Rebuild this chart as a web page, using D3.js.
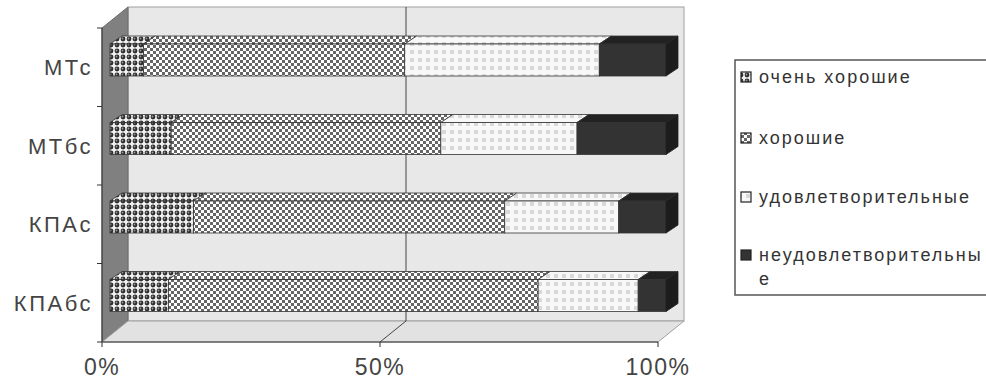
<!DOCTYPE html>
<html>
<head>
<meta charset="utf-8">
<script src="https://cdn.jsdelivr.net/npm/d3@7"></script>
<style>
  body { margin: 0; background: #fff; }
  svg { display: block; font-family: "Liberation Sans", Arial, sans-serif; }
</style>
</head>
<body>
<div id="chart"></div>
<script>
// данные (доли, %)
const categories = ["МТс", "МТбс", "КПАс", "КПАбс"];
const seriesNames = ["очень хорошие", "хорошие", "удовлетворительные", "неудовлетворительные"];
const veryGood = [6, 11, 15, 10.5];
const good = [47, 48.5, 56, 66.5];
const satisfactory = [35, 24.5, 20.5, 18];
const unsatisfactory = [12, 16, 8.5, 5];
const tickLabels = ["0%", "50%", "100%"];

const W = 986, H = 380;
const svg = d3.select("#chart").append("svg").attr("width", W).attr("height", H);

// 3D смещения
const depthX = 26, depthY = -21;   // стены
const barDX = 12, barDY = -8;      // глубина столбиков
const barShift = 8;

const x = d3.scaleLinear().domain([0, 100]).range([102, 658]);
const y = d3.scaleBand().domain(categories).range([28, 342]).padding(0);

// паттерны
const defs = svg.append("defs");
const p1 = defs.append("pattern").attr("id", "pVG").attr("patternUnits", "userSpaceOnUse")
  .attr("width", 6).attr("height", 6);
p1.append("rect").attr("width", 6).attr("height", 6).attr("fill", "#f0f0f0");
p1.append("circle").attr("cx", 3).attr("cy", 3).attr("r", 2.4).attr("fill", "#2e2e2e");
p1.append("circle").attr("cx", 2.5).attr("cy", 2.5).attr("r", 0.9).attr("fill", "#9a9a9a");

const p2 = defs.append("pattern").attr("id", "pG").attr("patternUnits", "userSpaceOnUse")
  .attr("width", 6).attr("height", 6);
p2.append("rect").attr("width", 6).attr("height", 6).attr("fill", "#fff");
p2.append("rect").attr("width", 3).attr("height", 3).attr("fill", "#666");
p2.append("rect").attr("x", 3).attr("y", 3).attr("width", 3).attr("height", 3).attr("fill", "#666");

const p3 = defs.append("pattern").attr("id", "pS").attr("patternUnits", "userSpaceOnUse")
  .attr("width", 8).attr("height", 8);
p3.append("rect").attr("width", 8).attr("height", 8).attr("fill", "#f8f8f8");
p3.append("rect").attr("x", 2).attr("y", 2).attr("width", 4).attr("height", 4).attr("fill", "#d8d8d8");

const fills = ["url(#pVG)", "url(#pG)", "url(#pS)", "#333333"];

// стены и пол
const x0 = x(0), x1 = x(100), yTop = 28, yBot = 342;
svg.append("rect")
  .attr("x", x0 + depthX).attr("y", yTop + depthY)
  .attr("width", x1 - x0).attr("height", yBot - yTop)
  .attr("fill", "#e8e8e8").attr("stroke", "#a0a0a0");
svg.append("polygon")
  .attr("points", [[x0, yTop], [x0 + depthX, yTop + depthY], [x0 + depthX, yBot + depthY], [x0, yBot]].join(" "))
  .attr("fill", "#808080").attr("stroke", "#6a6a6a");
svg.append("polygon")
  .attr("points", [[x0, yBot], [x0 + depthX, yBot + depthY], [x1 + depthX, yBot + depthY], [x1, yBot]].join(" "))
  .attr("fill", "#e2e2e2").attr("stroke", "#a0a0a0");

// сетка 50%
svg.append("line")
  .attr("x1", x(50) + depthX).attr("x2", x(50) + depthX)
  .attr("y1", yTop + depthY).attr("y2", yBot + depthY)
  .attr("stroke", "#444");
svg.append("line")
  .attr("x1", x(50)).attr("x2", x(50) + depthX)
  .attr("y1", yBot).attr("y2", yBot + depthY)
  .attr("stroke", "#444");

// столбики
const series = [veryGood, good, satisfactory, unsatisfactory];
const barH = 32;
categories.forEach((c, i) => {
  const top = y(c) + 16;
  let acc = 0;
  series.forEach((s, k) => {
    const a = x(acc) + barShift, b = x(acc + s[i]) + barShift;
    acc += s[i];
    // верх
    svg.append("polygon")
      .attr("points", [[a, top], [a + barDX, top + barDY], [b + barDX, top + barDY], [b, top]].join(" "))
      .attr("fill", k === 3 ? "#222" : fills[k]).attr("stroke", "#333").attr("stroke-width", 0.8);
    // лицо
    svg.append("rect")
      .attr("x", a).attr("y", top).attr("width", b - a).attr("height", barH)
      .attr("fill", fills[k]).attr("stroke", "#333").attr("stroke-width", 0.8);
    // правая грань
    if (k === 3) {
      svg.append("polygon")
        .attr("points", [[b, top], [b + barDX, top + barDY], [b + barDX, top + barDY + barH], [b, top + barH]].join(" "))
        .attr("fill", "#1c1c1c").attr("stroke", "#222").attr("stroke-width", 0.8);
    }
  });
});

// оси
svg.append("line").attr("x1", x0).attr("x2", x0).attr("y1", yTop).attr("y2", yBot).attr("stroke", "#333");
svg.append("line").attr("x1", x0).attr("x2", x1).attr("y1", yBot).attr("y2", yBot).attr("stroke", "#333");
const yTicks = categories.map(c => y(c)).concat([yBot]);
yTicks.forEach(t => {
  svg.append("line").attr("x1", x0 - 5).attr("x2", x0).attr("y1", t).attr("y2", t).attr("stroke", "#333");
});
[0, 50, 100].forEach((v, i) => {
  svg.append("line").attr("x1", x(v)).attr("x2", x(v)).attr("y1", yBot).attr("y2", yBot + 5).attr("stroke", "#333");
  svg.append("text")
    .attr("x", x(v)).attr("y", 375)
    .attr("text-anchor", "middle")
    .style("font-size", "23px").style("letter-spacing", "1.5px").style("fill", "#444")
    .text(tickLabels[i]);
});
categories.forEach(c => {
  svg.append("text")
    .attr("x", 93).attr("y", y(c) + y.bandwidth() / 2 + 8)
    .attr("text-anchor", "end")
    .style("font-size", "22px").style("letter-spacing", "2.5px").style("fill", "#444")
    .text(c);
});

// легенда
svg.append("rect")
  .attr("x", 735).attr("y", 60).attr("width", 270).attr("height", 235)
  .attr("fill", "#fff").attr("stroke", "#555").attr("stroke-width", 1.5);
const legY = [77, 138, 197, 255];
seriesNames.forEach((n, k) => {
  svg.append("rect")
    .attr("x", 741).attr("y", legY[k] - 5).attr("width", 10).attr("height", 10)
    .attr("fill", fills[k]).attr("stroke", "#222").attr("stroke-width", 1.2);
  const t = svg.append("text")
    .attr("x", 759).attr("y", legY[k] + 6)
    .style("font-size", "18px").style("letter-spacing", "2px").style("fill", "#333");
  if (k === 3) {
    t.append("tspan").text("неудовлетворительны");
    t.append("tspan").attr("x", 759).attr("dy", 24).text("е");
  } else {
    t.text(n);
  }
});
</script>
</body>
</html>
